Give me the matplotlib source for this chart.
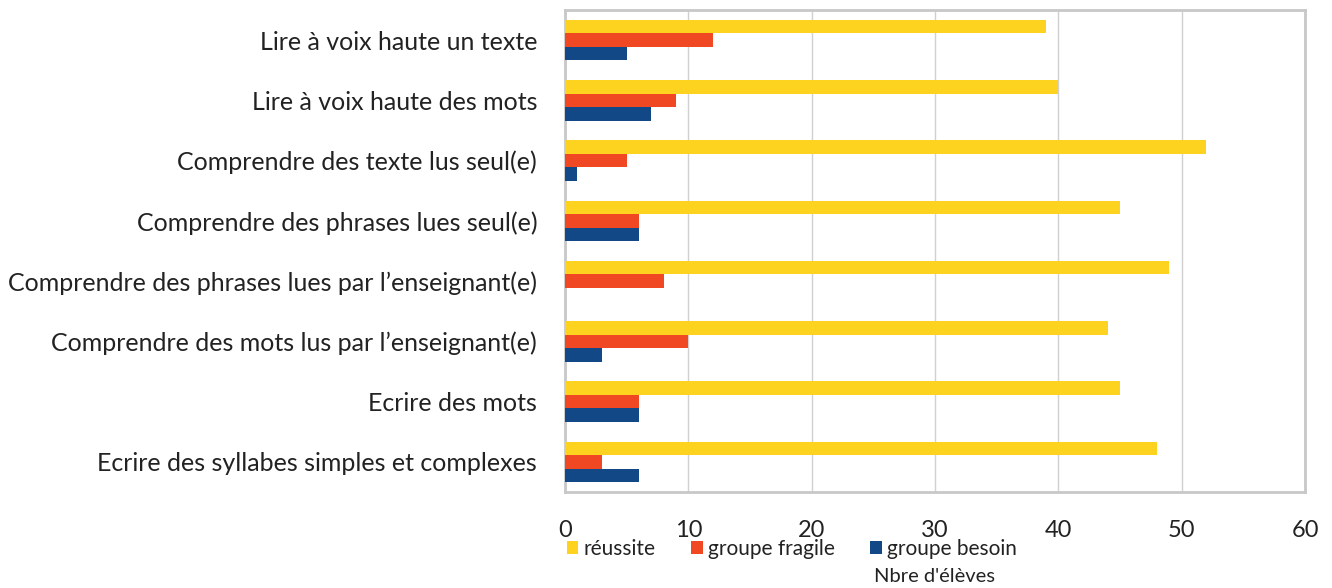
import matplotlib
matplotlib.use("Agg")
import matplotlib.pyplot as plt
import numpy as np
from matplotlib.patches import Patch

plt.rcParams['font.family'] = ['Lato', 'DejaVu Sans']

categories = [
    "Lire à voix haute un texte",
    "Lire à voix haute des mots",
    "Comprendre des texte lus seul(e)",
    "Comprendre des phrases lues seul(e)",
    "Comprendre des phrases lues par l’enseignant(e)",
    "Comprendre des mots lus par l’enseignant(e)",
    "Ecrire des mots",
    "Ecrire des syllabes simples et complexes",
]
reussite = [39, 40, 52, 45, 49, 44, 45, 48]
fragile = [12, 9, 5, 6, 8, 10, 6, 3]
besoin = [5, 7, 1, 6, 0, 3, 6, 6]
series_names = ["réussite", "groupe fragile", "groupe besoin"]
x_ticks = [0, 10, 20, 30, 40, 50, 60]
x_label = "Nbre d'élèves"

colors = ['#FDD31F', '#EF4823', '#134886']

fig = plt.figure(figsize=(13.32, 5.88), dpi=100)
ax = fig.add_axes([565/1332, 1-492/588, (1305-565)/1332, (492-10)/588])

y = np.arange(len(categories))
h = 0.224
for vals, off, c in zip([reussite, fragile, besoin], [-h, 0, h], colors):
    ax.barh(y + off, vals, height=h, color=c, zorder=3)

ax.set_ylim(len(categories) - 0.5, -0.5)
ax.set_xlim(0, 60)
ax.set_xticks(x_ticks)
ax.set_yticks(y)
ax.set_yticklabels(categories, fontsize=18, color='#222222')
ax.tick_params(axis='y', length=0, pad=20)
ax.tick_params(axis='x', length=0, pad=20, labelsize=17, labelcolor='#222222')
ax.grid(axis='x', color='#D0D0D0', linewidth=1, zorder=0)
for s in ax.spines.values():
    s.set_color('#C8C8C8')
    s.set_linewidth(2)

handles = [Patch(facecolor=c, edgecolor='none') for c in colors]
leg = fig.legend(handles, series_names, loc='center left',
                 bbox_to_anchor=(567/1332, 1-549/588), ncol=3, frameon=False,
                 fontsize=15, handlelength=0.55, handleheight=0.55,
                 handletextpad=0.25, columnspacing=1.7, borderaxespad=0,
                 borderpad=0)
for t in leg.get_texts():
    t.set_color('#222222')
fig.text(935/1332, 1-576/588, x_label, ha='center', va='center',
         fontsize=14.5, color='#222222')

fig.savefig("out.png", dpi=100)
